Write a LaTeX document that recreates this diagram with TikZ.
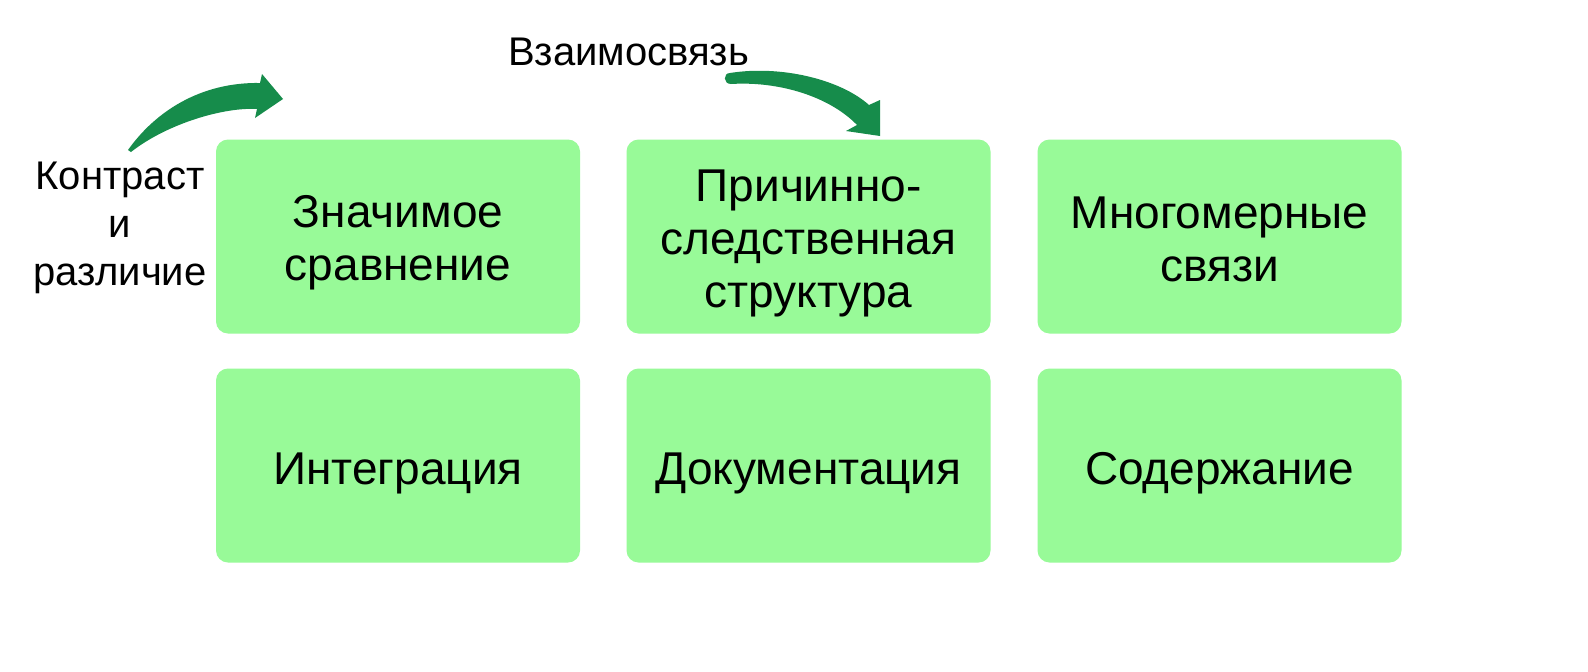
\documentclass[tikz,border=0pt]{standalone}
\usepackage{fontspec}
\setmainfont{Liberation Sans}
\definecolor{boxgreen}{RGB}{152,250,152}
\definecolor{arrowgreen}{RGB}{22,140,75}
\tikzset{
  box/.style={rectangle, rounded corners=12pt, fill=boxgreen, minimum width=364pt, minimum height=194pt, inner sep=0pt},
  boxtxt/.style={align=center, inner sep=0pt, font=\fontsize{46}{53}\selectfont},
  lbl/.style={align=center, inner sep=0pt, font=\fontsize{40}{48}\selectfont},
  arrowfill/.style={fill=arrowgreen, draw=none}
}
\begin{document}
\begin{tikzpicture}[x=1pt,y=-1pt]
\useasboundingbox[fill=white] (0,0) rectangle (1588,672);
% boxes
\node[box] (b1) at (398,236.5) {};
\node[box] (b2) at (808.5,236.5) {};
\node[box] (b3) at (1219.5,236.5) {};
\node[box] (b4) at (398,465.5) {};
\node[box] (b5) at (808.5,465.5) {};
\node[box] (b6) at (1219.5,465.5) {};
% box texts
\node[boxtxt] (t1) at ([yshift=-6.5pt]b1.center) {Значимое\\сравнение};
\node[boxtxt] (t2) at ([yshift=-6.5pt]b2.center) {Причинно-\\следственная\\структура};
\node[boxtxt] (t3) at ([yshift=-2.5pt]b3.center) {Многомерные\\связи};
\node[boxtxt] (t4) at ([yshift=-8pt]b4.center) {Интеграция};
\node[boxtxt] (t5) at ([yshift=-8pt]b5.center) {Документация};
\node[boxtxt] (t6) at ([yshift=-8pt]b6.center) {Содержание};
% labels
\node[lbl] (l1) at (120,227.5) {Контраст\\и\\различие};
\node[lbl, anchor=base] (l2) at (628.5,65) {Взаимосвязь};
% arrow 1
\path[arrowfill] (128,150) .. controls (155,112) and (200,82) .. (260,83)
  -- (262,74) -- (283,99) -- (255,118) -- (257,109)
  .. controls (225,107) and (168,123) .. (131,152) -- cycle;
% arrow 2
\path[arrowfill] (730,73) .. controls (780,65) and (840,79) .. (869,105)
  -- (880,100) -- (880,136) -- (846,131) -- (857,125)
  .. controls (830,97) and (780,81) .. (731,84)
  .. controls (723,84) and (723,73) .. (730,73) -- cycle;
\end{tikzpicture}
\end{document}
